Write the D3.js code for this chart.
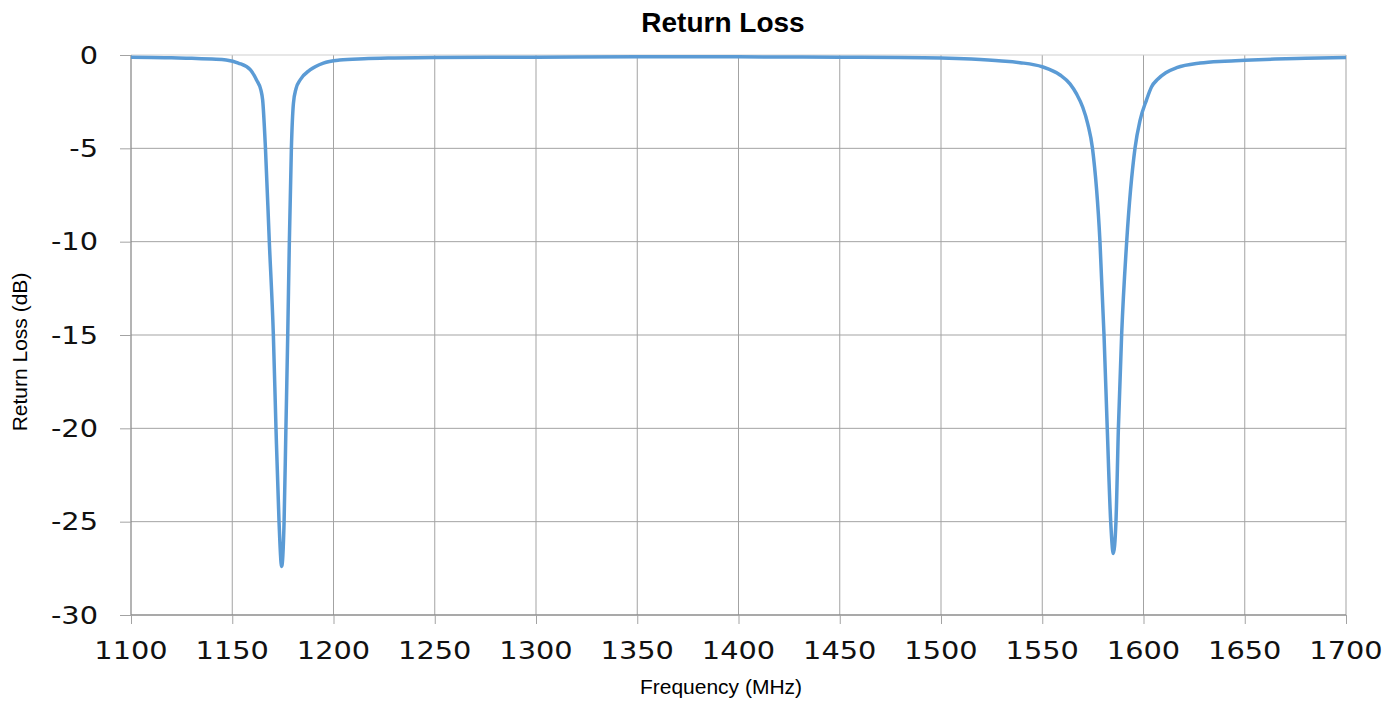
<!DOCTYPE html>
<html>
<head>
<meta charset="utf-8">
<script src="https://cdn.jsdelivr.net/npm/d3@7"></script>
<style>
  body { margin: 0; background: #fff; }
  svg { display: block; }
</style>
</head>
<body>
<script>
// frequency (MHz) and return loss (dB)
const freq = [1100, 1110, 1120, 1130, 1140, 1147, 1153, 1159, 1162, 1164.2, 1165.0, 1166.4, 1168.3, 1170.3,
  1171.6, 1173.1, 1174.4, 1175.6, 1176.5, 1177.4, 1178.2, 1179.2, 1180.2, 1181.5, 1183.5, 1188.4, 1195,
  1203, 1215, 1230, 1250, 1300, 1350, 1400, 1450, 1480, 1500, 1515, 1530, 1539, 1550, 1558.8, 1563.7,
  1567, 1570, 1572.5, 1574.8, 1578.5, 1580.5, 1582.1, 1583.8, 1585.1, 1586.4, 1587.6, 1589.2, 1591.7, 1595.8,
  1598.3, 1601.5, 1604, 1607, 1611, 1616.4, 1628, 1640, 1650, 1665, 1680, 1700];
const returnLoss = [-0.12, -0.13, -0.15, -0.17, -0.22, -0.27, -0.43, -0.8, -1.34, -1.9, -2.4, -5, -10, -15,
  -20, -25, -27.4, -25, -20, -15, -10, -5, -2.6, -1.8, -1.34, -0.8, -0.43,
  -0.27, -0.2, -0.16, -0.13, -0.12, -0.1, -0.1, -0.12, -0.13, -0.16, -0.22, -0.32, -0.41, -0.63, -1.07, -1.55,
  -2.1, -2.8, -3.7, -5, -10, -15, -20, -25, -26.7, -25, -20, -15, -10, -5,
  -3.5, -2.4, -1.7, -1.3, -0.95, -0.68, -0.43, -0.33, -0.28, -0.22, -0.18, -0.13];

const xTicks = d3.range(1100, 1701, 50);
const yTicks = [0, -5, -10, -15, -20, -25, -30];

const width = 1396, height = 701;
const margin = { left: 131, right: 50, top: 55, bottom: 86 };

const x = d3.scaleLinear().domain([1100, 1700]).range([margin.left, width - margin.right]);
const y = d3.scaleLinear().domain([-30, 0]).range([height - margin.bottom, margin.top]);

const svg = d3.select("body").append("svg")
  .attr("width", width)
  .attr("height", height);

// gridlines
svg.append("g")
  .selectAll("line")
  .data(xTicks.slice(1))
  .enter()
  .append("line")
  .attr("x1", d => x(d)).attr("x2", d => x(d))
  .attr("y1", y(0)).attr("y2", y(-30))
  .attr("stroke", "#a3a3a3")
  .attr("stroke-width", 1);

svg.append("g")
  .selectAll("line")
  .data(yTicks.slice(0, -1))
  .enter()
  .append("line")
  .attr("x1", x(1100)).attr("x2", x(1700))
  .attr("y1", d => y(d)).attr("y2", d => y(d))
  .attr("stroke", d => d === 0 ? "#cfcfcf" : "#a3a3a3")
  .attr("stroke-width", 1);

// axes (tick marks only, labels drawn below)
const xAxis = svg.append("g")
  .attr("transform", `translate(0,${y(-30)})`)
  .call(d3.axisBottom(x).tickValues(xTicks).tickSize(9).tickFormat(""));
const yAxis = svg.append("g")
  .attr("transform", `translate(${x(1100)},0)`)
  .call(d3.axisLeft(y).tickValues(yTicks).tickSize(11).tickFormat(""));
[xAxis, yAxis].forEach(a => {
  a.select(".domain").attr("stroke", "#8c8c8c").attr("stroke-width", 1.3);
  a.selectAll(".tick line").attr("stroke", "#a3a3a3");
});
yAxis.select(".domain").attr("d", `M0,${y(0)}V${y(-30)}`);
xAxis.select(".domain").attr("d", `M${x(1100)},0H${x(1700)}`);

// tick labels (wide lettering, like the reference)
svg.append("g")
  .selectAll("text")
  .data(xTicks)
  .enter()
  .append("text")
  .attr("transform", d => `translate(${x(d)},${y(-30) + 44}) scale(1.2,1)`)
  .attr("text-anchor", "middle")
  .attr("font-family", "DejaVu Sans")
  .attr("font-size", 24)
  .attr("fill", "#111")
  .text(d => d);

svg.append("g")
  .selectAll("text")
  .data(yTicks)
  .enter()
  .append("text")
  .attr("transform", d => `translate(98,${y(d)}) scale(1.2,1)`)
  .attr("dy", "0.36em")
  .attr("text-anchor", "end")
  .attr("font-family", "DejaVu Sans")
  .attr("font-size", 24)
  .attr("fill", "#111")
  .text(d => d);

// curve
const line = d3.line()
  .x((d, i) => x(freq[i]))
  .y(d => y(d))
  .curve(d3.curveMonotoneX);

svg.append("path")
  .datum(returnLoss)
  .attr("d", line)
  .attr("fill", "none")
  .attr("stroke", "#5b9bd5")
  .attr("stroke-width", 3.5)
  .attr("stroke-linejoin", "round");

// titles
svg.append("text")
  .attr("x", 723).attr("y", 32)
  .attr("text-anchor", "middle")
  .attr("font-family", "Liberation Sans, Arial")
  .attr("font-weight", "bold")
  .attr("font-size", 28)
  .text("Return Loss");

svg.append("text")
  .attr("x", 721).attr("y", 694)
  .attr("text-anchor", "middle")
  .attr("font-family", "Liberation Sans, Arial")
  .attr("font-size", 21)
  .text("Frequency (MHz)");

svg.append("text")
  .attr("transform", "translate(27,352) rotate(-90)")
  .attr("text-anchor", "middle")
  .attr("font-family", "Liberation Sans, Arial")
  .attr("font-size", 21)
  .text("Return Loss (dB)");
</script>
</body>
</html>
